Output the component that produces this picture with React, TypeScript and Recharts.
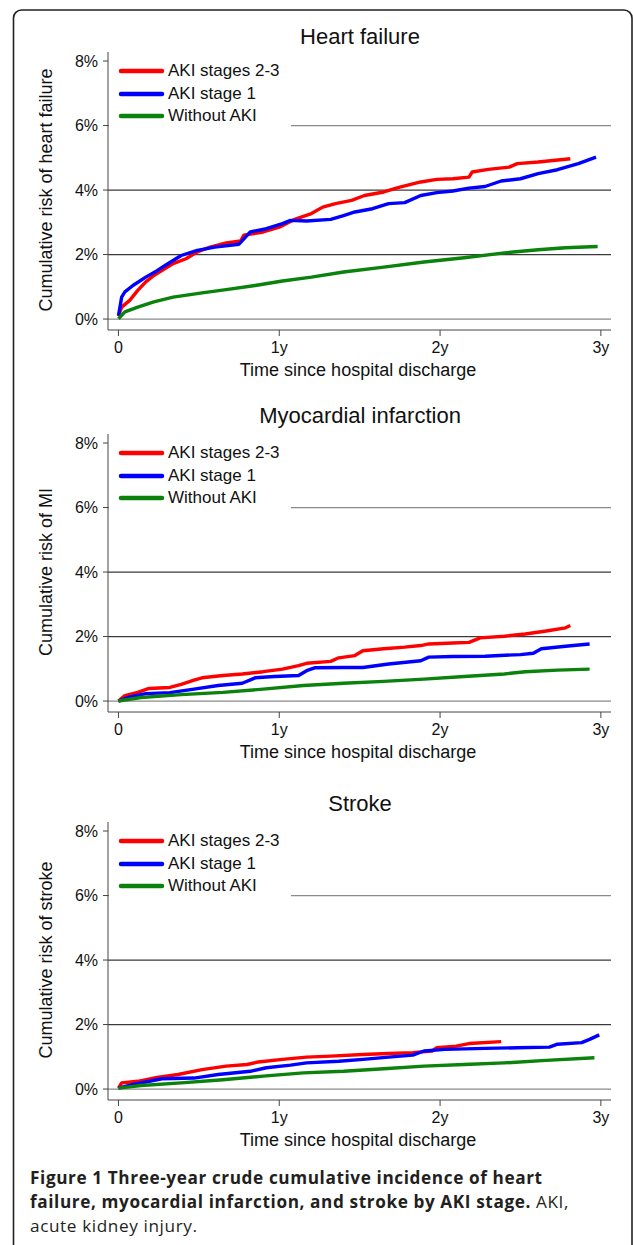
import React from 'react';
import { LineChart, Line, XAxis, YAxis, ReferenceLine } from 'recharts';

type Pt = [number, number];

// years since discharge, cumulative risk in %
const seriesNames = ['AKI stages 2-3', 'AKI stage 1', 'Without AKI'];
const seriesColors = ['#ff0000', '#0000ff', '#0b820b'];
const xTicks = [0, 1, 2, 3];
const yTicks = [0, 2, 4, 6, 8];
const gridLevels = [0, 2, 4, 6];

const hfAki23: Pt[] = [
  [0, 0.1], [0.02, 0.37], [0.07, 0.58], [0.12, 0.89], [0.17, 1.15], [0.22, 1.35], [0.27, 1.5],
  [0.34, 1.72], [0.42, 1.87], [0.49, 2.08], [0.57, 2.23], [0.67, 2.36], [0.76, 2.42], [0.78, 2.6],
  [0.9, 2.7], [1.0, 2.85], [1.1, 3.1], [1.2, 3.27], [1.27, 3.47], [1.35, 3.58], [1.45, 3.68],
  [1.53, 3.83], [1.65, 3.94], [1.75, 4.09], [1.88, 4.25], [1.98, 4.33], [2.08, 4.35], [2.18, 4.4],
  [2.2, 4.56], [2.3, 4.64], [2.43, 4.71], [2.48, 4.82], [2.61, 4.87], [2.81, 4.97],
];
const hfAki1: Pt[] = [
  [0, 0.1], [0.02, 0.68], [0.04, 0.84], [0.09, 1.04], [0.17, 1.3], [0.24, 1.5], [0.29, 1.66],
  [0.39, 1.97], [0.49, 2.13], [0.6, 2.23], [0.75, 2.32], [0.82, 2.7], [0.92, 2.8], [1.02, 2.96],
  [1.07, 3.06], [1.17, 3.04], [1.32, 3.09], [1.4, 3.21], [1.47, 3.32], [1.58, 3.42], [1.68, 3.58],
  [1.78, 3.61], [1.88, 3.83], [1.98, 3.92], [2.08, 3.97], [2.18, 4.06], [2.28, 4.11], [2.38, 4.28],
  [2.5, 4.35], [2.61, 4.51], [2.73, 4.63], [2.86, 4.82], [2.97, 5.02],
];
const hfNoAki: Pt[] = [
  [0, 0.01], [0.04, 0.22], [0.12, 0.37], [0.22, 0.53], [0.34, 0.68], [0.52, 0.81], [0.67, 0.91],
  [0.85, 1.04], [1.02, 1.18], [1.2, 1.3], [1.4, 1.46], [1.65, 1.61], [1.9, 1.77], [2.15, 1.9],
  [2.4, 2.05], [2.61, 2.15], [2.78, 2.21], [2.98, 2.25],
];

const miAki23: Pt[] = [
  [0, 0], [0.04, 0.17], [0.12, 0.27], [0.19, 0.39], [0.32, 0.42], [0.39, 0.52], [0.47, 0.65],
  [0.52, 0.72], [0.65, 0.79], [0.77, 0.84], [0.9, 0.91], [1.02, 0.99], [1.12, 1.1], [1.17, 1.17],
  [1.32, 1.23], [1.37, 1.34], [1.47, 1.41], [1.52, 1.56], [1.65, 1.62], [1.78, 1.67], [1.88, 1.72],
  [1.93, 1.77], [2.08, 1.8], [2.18, 1.82], [2.25, 1.96], [2.4, 2.01], [2.53, 2.08], [2.66, 2.17],
  [2.78, 2.27], [2.81, 2.34],
];
const miAki1: Pt[] = [
  [0, 0], [0.07, 0.13], [0.17, 0.23], [0.32, 0.26], [0.47, 0.37], [0.62, 0.48], [0.77, 0.55],
  [0.85, 0.72], [0.97, 0.76], [1.12, 0.79], [1.17, 0.94], [1.22, 1.03], [1.4, 1.04], [1.52, 1.04],
  [1.68, 1.15], [1.88, 1.25], [1.93, 1.36], [2.08, 1.38], [2.28, 1.39], [2.5, 1.44], [2.58, 1.48],
  [2.63, 1.62], [2.78, 1.7], [2.93, 1.77],
];
const miNoAki: Pt[] = [
  [0, 0], [0.14, 0.11], [0.39, 0.2], [0.65, 0.27], [0.9, 0.37], [1.15, 0.48], [1.4, 0.55],
  [1.65, 0.61], [1.9, 0.68], [2.15, 0.76], [2.4, 0.84], [2.53, 0.91], [2.73, 0.96], [2.93, 0.99],
];

const stAki23: Pt[] = [
  [0, 0.03], [0.02, 0.19], [0.12, 0.24], [0.24, 0.36], [0.37, 0.45], [0.52, 0.6], [0.67, 0.71],
  [0.8, 0.76], [0.87, 0.84], [1.02, 0.92], [1.17, 0.99], [1.32, 1.02], [1.52, 1.07], [1.68, 1.1],
  [1.83, 1.13], [1.95, 1.18], [1.98, 1.28], [2.1, 1.33], [2.18, 1.41], [2.38, 1.47],
];
const stAki1: Pt[] = [
  [0, 0.03], [0.09, 0.14], [0.27, 0.32], [0.47, 0.34], [0.62, 0.45], [0.82, 0.55], [0.92, 0.66],
  [1.07, 0.74], [1.17, 0.81], [1.37, 0.86], [1.52, 0.92], [1.68, 0.99], [1.83, 1.05], [1.9, 1.18],
  [2.03, 1.23], [2.28, 1.26], [2.48, 1.28], [2.68, 1.3], [2.73, 1.39], [2.88, 1.44], [2.93, 1.54],
  [2.99, 1.68],
];
const stNoAki: Pt[] = [
  [0, 0.03], [0.14, 0.11], [0.39, 0.19], [0.65, 0.29], [0.9, 0.4], [1.15, 0.5], [1.4, 0.55],
  [1.65, 0.63], [1.9, 0.71], [2.15, 0.76], [2.4, 0.81], [2.66, 0.89], [2.96, 0.97],
];

const panels = [
  { title: 'Heart failure', yLabel: 'Cumulative risk of heart failure', series: [hfAki23, hfAki1, hfNoAki] },
  { title: 'Myocardial infarction', yLabel: 'Cumulative risk of MI', series: [miAki23, miAki1, miNoAki] },
  { title: 'Stroke', yLabel: 'Cumulative risk of stroke', series: [stAki23, stAki1, stNoAki] },
];
const panelTops = [0, 382, 770];
const titleYs = [38, 35, 35];

const FONT = '"Liberation Sans", Arial, sans-serif';
const W = 633;
const H = 390;
const gridStroke: Record<number, string> = { 0: '#8a8a8a', 2: '#3a3a3a', 4: '#3a3a3a', 6: '#8a8a8a' };

// Stata-style legend box: white fill, hides the left part of the 6% grid line
const LegendBox = () => (
  <div
    style={{
      position: 'absolute',
      left: 109,
      top: 57,
      width: 182,
      height: 73,
      paddingTop: 3,
      boxSizing: 'border-box',
      background: '#fff',
      fontFamily: FONT,
    }}
  >
    {seriesNames.map((name, i) => (
      <div key={name} style={{ display: 'flex', alignItems: 'center', height: 22.5 }}>
        <svg width={59} height={8} style={{ display: 'block' }}>
          <line x1={12} y1={4} x2={53} y2={4} stroke={seriesColors[i]} strokeWidth={4.5} strokeLinecap="round" />
        </svg>
        <span style={{ fontSize: 17, color: '#111', lineHeight: '22px' }}>{name}</span>
      </div>
    ))}
  </div>
);

const Panel = ({ title, titleY, yLabel, series }: { title: string; titleY: number; yLabel: string; series: Pt[][] }) => (
  <div style={{ position: 'relative', width: W, height: H }}>
    <LineChart width={W} height={H} margin={{ top: 52, right: 22, bottom: 30, left: 48 }}>
      {gridLevels.map((g) => (
        <ReferenceLine key={g} y={g} stroke={gridStroke[g]} strokeWidth={1.3} ifOverflow="hidden" />
      ))}
      <XAxis
        type="number"
        dataKey="t"
        domain={[-0.065, 3.063]}
        allowDataOverflow
        ticks={xTicks}
        tickFormatter={(t: number) => (t === 0 ? '0' : `${t}y`)}
        height={30}
        tickSize={6}
        tickMargin={6}
        stroke="#444"
        tick={{ fontSize: 16, fill: '#111', fontFamily: FONT }}
      />
      <YAxis
        type="number"
        dataKey="v"
        domain={[-0.34, 8.28]}
        allowDataOverflow
        ticks={yTicks}
        tickFormatter={(v: number) => `${v}%`}
        width={60}
        tickSize={5}
        tickMargin={5}
        stroke="#444"
        tick={{ fontSize: 16, fill: '#111', fontFamily: FONT }}
      />
      {series.map((s, i) => (
        <Line
          key={seriesNames[i]}
          name={seriesNames[i]}
          data={s.map(([t, v]) => ({ t, v }))}
          dataKey="v"
          type="linear"
          stroke={seriesColors[i]}
          strokeWidth={3.4}
          strokeLinejoin="round"
          dot={false}
          isAnimationActive={false}
        />
      ))}
    </LineChart>
    <LegendBox />
    <svg width={W} height={H} style={{ position: 'absolute', left: 0, top: 0, pointerEvents: 'none' }}>
      <text x={360} y={titleY} textAnchor="middle" dominantBaseline="middle" fontSize={22} fontFamily={FONT} fill="#111">
        {title}
      </text>
      <text
        x={0}
        y={0}
        transform="translate(47,190) rotate(-90)"
        textAnchor="middle"
        dominantBaseline="middle"
        fontSize={18}
        fontFamily={FONT}
        fill="#111"
      >
        {yLabel}
      </text>
      <text x={358} y={371} textAnchor="middle" dominantBaseline="middle" fontSize={18} fontFamily={FONT} fill="#111">
        Time since hospital discharge
      </text>
    </svg>
  </div>
);

export default function App() {
  return (
    <div style={{ position: 'absolute', left: 0, top: 0, width: W, height: 1245, background: '#fff', overflow: 'hidden' }}>
      <svg width={W} height={1245} style={{ position: 'absolute', left: 0, top: 0 }}>
        <path d="M13.5 1245 V18 A8 8 0 0 1 21.5 10 H624 A8 8 0 0 1 632 18 V1245" fill="none" stroke="#222" strokeWidth={1.6} />
      </svg>
      {panels.map((p, i) => (
        <div key={p.title} style={{ position: 'absolute', left: 0, top: panelTops[i] }}>
          <Panel title={p.title} titleY={titleYs[i]} yLabel={p.yLabel} series={p.series} />
        </div>
      ))}
      <div
        style={{
          position: 'absolute',
          left: 30,
          top: 1166,
          fontFamily: '"Open Sans", sans-serif',
          fontSize: 17.2,
          letterSpacing: 0.6,
          lineHeight: '23.8px',
          color: '#231f20',
          whiteSpace: 'nowrap',
        }}
      >
        <b>Figure 1 Three-year crude cumulative incidence of heart</b>
        <br />
        <b>failure, myocardial infarction, and stroke by AKI stage.</b> AKI,
        <br />
        acute kidney injury.
      </div>
    </div>
  );
}
